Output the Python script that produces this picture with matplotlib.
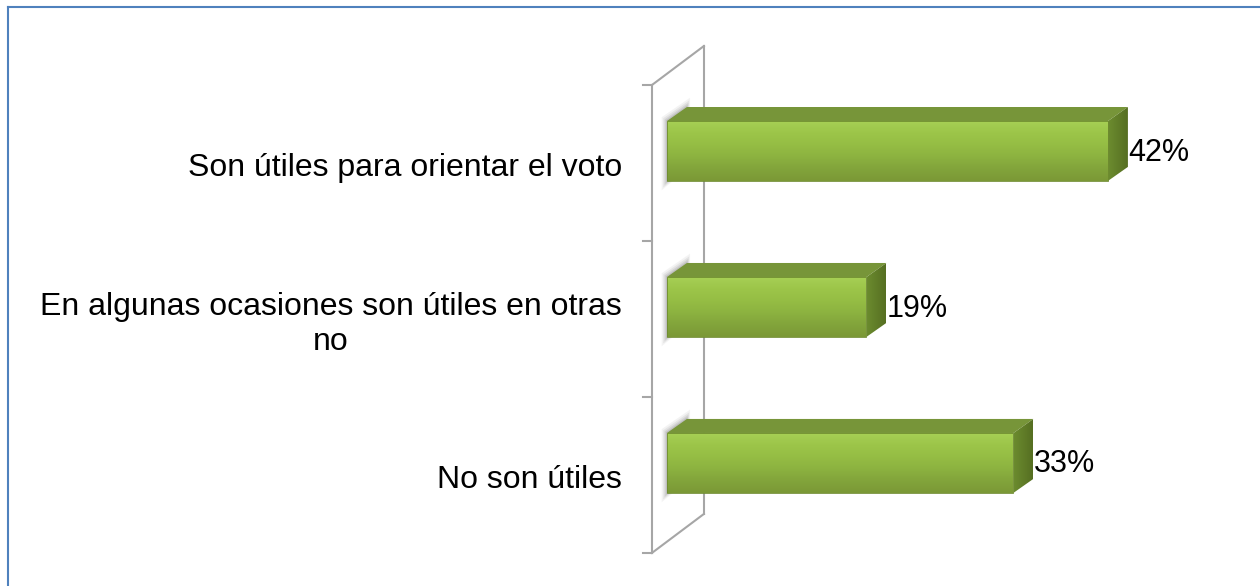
import numpy as np
import matplotlib.pyplot as plt
from matplotlib.patches import Polygon
from matplotlib.lines import Line2D
from matplotlib.colors import LinearSegmentedColormap

categories = ["Son útiles para orientar el voto",
              "En algunas ocasiones son útiles en otras\nno",
              "No son útiles"]
values = [42, 19, 33]
value_labels = ["42%", "19%", "33%"]

plt.rcParams['font.family'] = ['Liberation Sans', 'DejaVu Sans']

fig = plt.figure(figsize=(12.6, 5.86), dpi=100)
ax = fig.add_axes([0, 0, 1, 1])
ax.axis('off')

# fake 3d geometry (data units: % on x, category index on y)
bdx, bdy = 1.9, -0.09        # bar depth
wdx, wdy = 4.95, -0.25       # wall depth
wall_x = -1.43
bar_top, bar_bot = -0.269, 0.115
n = len(categories)

front_cm = LinearSegmentedColormap.from_list(
    'front', ['#a6cf55', '#9cc549', '#95bd44', '#8cb240', '#82a43b', '#7b9836'])
side_cm = LinearSegmentedColormap.from_list('side', ['#6c8c2f', '#566f22'])

# wall
wall_col = '#a6a6a6'
y0, y1 = -0.5, n - 0.5
ax.plot([wall_x, wall_x], [y0, y1], color=wall_col, lw=1.5, zorder=1)
ax.plot([wall_x + wdx, wall_x + wdx], [y0 + wdy, y1 + wdy], color=wall_col, lw=1.5, zorder=1)
ax.plot([wall_x, wall_x + wdx], [y0, y0 + wdy], color=wall_col, lw=1.5, zorder=1)
ax.plot([wall_x, wall_x + wdx], [y1, y1 + wdy], color=wall_col, lw=1.5, zorder=1)
for k in range(n + 1):
    ax.plot([wall_x - 0.86, wall_x], [y0 + k, y0 + k], color=wall_col, lw=1.5, zorder=1)

for i, (v, cat, lab) in enumerate(zip(values, categories, value_labels)):
    t, b = i + bar_top, i + bar_bot

    # soft shadow on the wall
    for grow, a in [(0.5, 0.07), (0.35, 0.1), (0.22, 0.13), (0.1, 0.16)]:
        sh = Polygon([(-grow, b + grow * 0.12), (-grow, t - grow * 0.05),
                      (bdx + grow * 0.6, t + bdy - grow * 0.12),
                      (bdx + grow * 0.6, b + bdy)],
                     closed=True, facecolor='#606060', edgecolor='none', alpha=a, zorder=2)
        ax.add_patch(sh)

    # top face
    ax.add_patch(Polygon([(0, t), (v, t), (v + bdx, t + bdy), (bdx, t + bdy)],
                         closed=True, facecolor='#779539', edgecolor='none', zorder=3))

    # right face
    side = Polygon([(v, t), (v + bdx, t + bdy), (v + bdx, b + bdy), (v, b)],
                   closed=True, facecolor='none', edgecolor='none', zorder=3)
    ax.add_patch(side)
    im = ax.imshow(np.linspace(0, 1, 50).reshape(1, -1), cmap=side_cm,
                   extent=(v, v + bdx, b, t + bdy), aspect='auto', zorder=3)
    im.set_clip_path(side)

    # front face
    front = Polygon([(0, t), (v, t), (v, b), (0, b)], closed=True,
                    facecolor='none', edgecolor='#6f8c30', lw=0.6, zorder=4)
    ax.add_patch(front)
    im = ax.imshow(np.linspace(0, 1, 100).reshape(-1, 1), cmap=front_cm,
                   extent=(0, v, b, t), aspect='auto', zorder=3.5)
    im.set_clip_path(front)

    ax.text(-4.29, i + 0.035, cat, ha='right', va='center', fontsize=23,
            multialignment='center', linespacing=1.2, color='black')
    ax.text(v + bdx, (t + b) / 2 + 0.01, lab, ha='left', va='center',
            fontsize=22, color='black')

ax.set_xlim(-63.52, 56.48)
ax.set_ylim(2.712, -1.045)

# chart border (only left and top are inside the picture)
fig.add_artist(Line2D([8 / 1260, 8 / 1260], [0, 1 - 7 / 586], color='#4f81bd', lw=1.5))
fig.add_artist(Line2D([8 / 1260, 1], [1 - 7 / 586, 1 - 7 / 586], color='#4f81bd', lw=1.5))

fig.savefig('out.png', dpi=100, facecolor='white')
